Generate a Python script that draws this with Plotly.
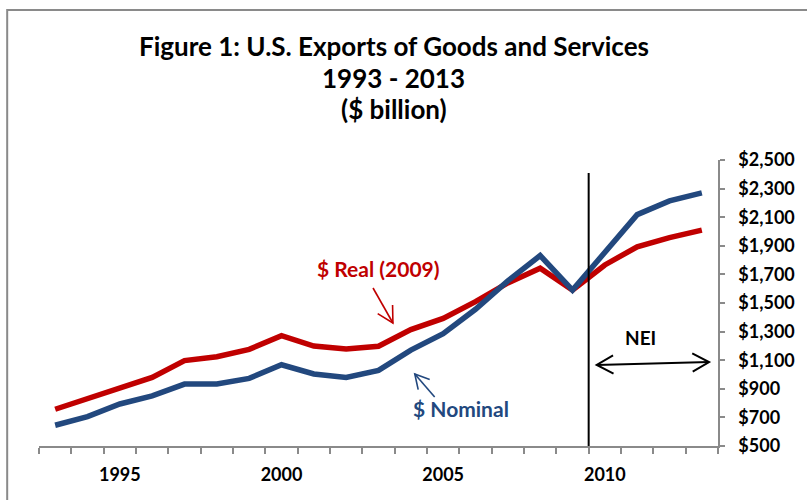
import math
import plotly.graph_objects as go

# U.S. exports of goods and services, $ billion
years = list(range(1993, 2014))
nominal = [645, 705, 794, 850, 933, 934, 973, 1068, 1004, 980, 1029, 1171, 1285,
           1456, 1655, 1832, 1590, 1852, 2118, 2214, 2270]
real_2009 = [757, 829, 908, 980, 1097, 1124, 1176, 1272, 1199, 1178, 1198, 1314, 1392,
             1509, 1640, 1743, 1590, 1766, 1893, 1957, 2010]
year_labels = [1995, 2000, 2005, 2010]
title_lines = ["Figure 1: U.S. Exports of Goods and Services", "1993 - 2013", "($ billion)"]

W, H = 807, 500
L, R, T, B = 39, 722, 160, 446  # plot-area edges in pixels

RED = "#C00000"
BLUE = "#22487E"
GRAY = "#8A8A8A"
FONT = "Lato"


def px(xp):
    return (xp - L) / (R - L)


def py(yp):
    return (B - yp) / (B - T)


fig = go.Figure()
fig.add_trace(go.Scatter(x=years, y=real_2009, mode="lines", name="$ Real (2009)",
                         line=dict(color=RED, width=5.5)))
fig.add_trace(go.Scatter(x=years, y=nominal, mode="lines", name="$ Nominal",
                         line=dict(color=BLUE, width=5.5)))

boundaries = [y - 0.5 for y in years] + [years[-1] + 0.5]

fig.update_layout(
    width=W, height=H,
    margin=dict(l=L, r=W - R, t=T, b=H - B),
    paper_bgcolor="white", plot_bgcolor="white",
    showlegend=False,
    font=dict(family=FONT, color="black"),
    xaxis=dict(
        range=[boundaries[0], boundaries[-1]],
        tickvals=year_labels, ticktext=[str(y) for y in year_labels],
        ticks="", showgrid=False, zeroline=False,
        showline=True, linecolor=GRAY, linewidth=1.5,
        tickfont=dict(family=FONT, size=18, color="black", weight="bold"),
        ticklabelstandoff=12,
        minor=dict(tickvals=boundaries, ticks="outside", ticklen=6,
                   tickcolor=GRAY, tickwidth=1.5, showgrid=False),
    ),
    yaxis=dict(
        range=[500, 2500], tick0=500, dtick=200, side="right",
        tickprefix="$", tickformat=",",
        ticks="outside", ticklen=5, tickcolor=GRAY, tickwidth=1.5,
        showgrid=False, zeroline=False,
        showline=True, linecolor=GRAY, linewidth=1.5,
        tickfont=dict(family=FONT, size=18, color="black", weight="bold"),
        ticklabelstandoff=10,
    ),
)

# outer chart frame
fig.add_shape(type="rect", xref="paper", yref="paper",
              x0=px(7), x1=px(830), y0=py(520), y1=py(10),
              line=dict(color=GRAY, width=2), fillcolor="rgba(0,0,0,0)", layer="below")

# forecast divider
fig.add_shape(type="line", xref="x", yref="paper", x0=2009.5, x1=2009.5,
              y0=0, y1=py(173), line=dict(color="black", width=2))

# title lines
for line_text, yp in zip(title_lines, [46, 78, 109]):
    fig.add_annotation(text=line_text, xref="paper", yref="paper",
                       x=px(396), y=py(yp), showarrow=False,
                       xanchor="center", yanchor="middle",
                       font=dict(family=FONT, size=26, color="black", weight="bold"))

# series labels
fig.add_annotation(text="$ Real (2009)", xref="paper", yref="paper",
                   x=px(381), y=py(268), showarrow=False,
                   font=dict(family=FONT, size=21, color=RED, weight="bold"))
fig.add_annotation(text="$ Nominal", xref="paper", yref="paper",
                   x=px(463), y=py(423), showarrow=False,
                   font=dict(family=FONT, size=21, color=BLUE, weight="bold"))
fig.add_annotation(text="NEI", xref="paper", yref="paper",
                   x=px(662), y=py(337), showarrow=False,
                   font=dict(family=FONT, size=19, color="black", weight="bold"))


def _wing_path(head, tail, wing, spread):
    """Open V arrowhead at `head`, pointing away from `tail` (pixel coords)."""
    dx, dy = tail[0] - head[0], tail[1] - head[1]
    ang = math.atan2(dy, dx)
    pts = []
    for s in (spread, -spread):
        pts.append((head[0] + wing * math.cos(ang + s), head[1] + wing * math.sin(ang + s)))
    return (f"M {px(pts[0][0])},{py(pts[0][1])} L {px(head[0])},{py(head[1])} "
            f"L {px(pts[1][0])},{py(pts[1][1])}")


def arrow(head, tail, color, width, wing, both=False, spread=0.5):
    """Thin line arrow from tail to head with open V heads."""
    line = dict(color=color, width=width)
    fig.add_shape(type="line", xref="paper", yref="paper",
                  x0=px(tail[0]), y0=py(tail[1]), x1=px(head[0]), y1=py(head[1]), line=line)
    fig.add_shape(type="path", xref="paper", yref="paper",
                  path=_wing_path(head, tail, wing, spread), line=line)
    if both:
        fig.add_shape(type="path", xref="paper", yref="paper",
                      path=_wing_path(tail, head, wing, spread), line=line)


# pointer arrows
arrow((395, 323), (375, 288), RED, 1.6, 18)
arrow((417, 374), (437, 397), BLUE, 1.6, 16)
arrow((713, 362), (600, 365), "black", 2, 19, both=True)

fig.write_html("out.html")
